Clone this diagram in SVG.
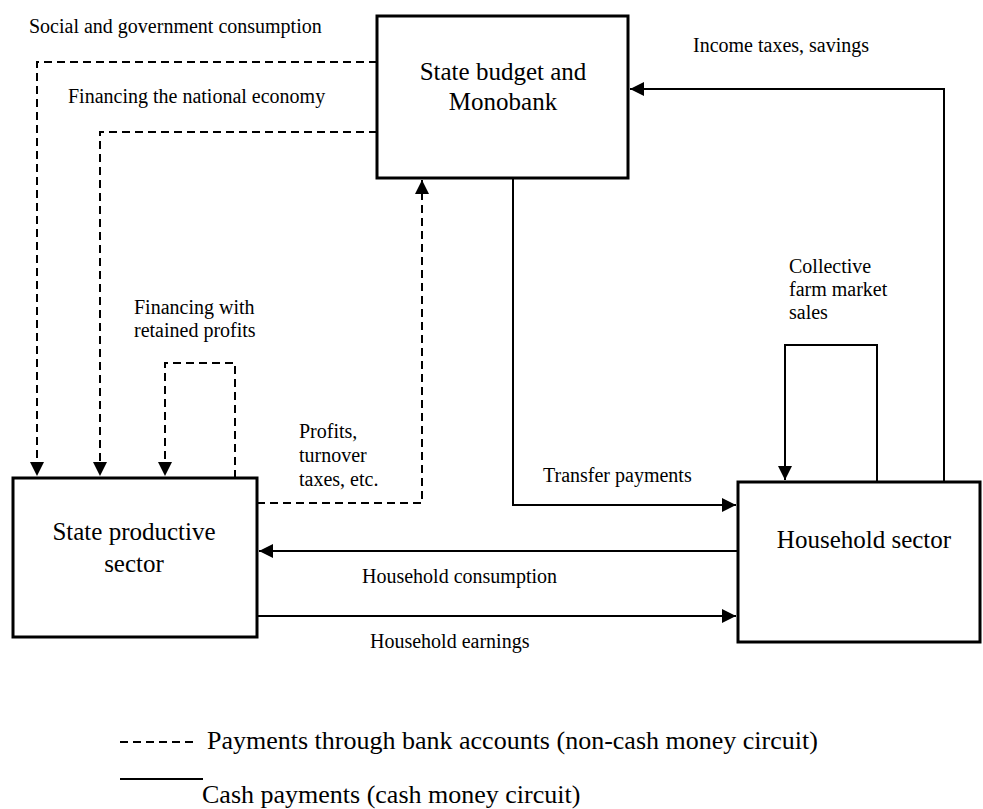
<svg xmlns="http://www.w3.org/2000/svg" width="983" height="809" viewBox="0 0 983 809">
<style>
.box{fill:#fff;stroke:#000;stroke-width:3}
.c{fill:none;stroke:#000;stroke-width:2}
.d{stroke-dasharray:8 5}
.lbl{font-family:"Liberation Serif","Times New Roman",serif;font-size:20px;fill:#000}
.node{font-family:"Liberation Serif","Times New Roman",serif;font-size:25px;fill:#000;text-anchor:middle}
.leg{font-family:"Liberation Serif","Times New Roman",serif;font-size:26px;fill:#000}
</style>
<defs>
<marker id="ah" markerUnits="userSpaceOnUse" markerWidth="14" markerHeight="14" viewBox="0 0 14 14" refX="14" refY="7" orient="auto">
<path d="M0,0 L14,7 L0,14 Z" fill="#000"/>
</marker>
</defs>
<rect width="983" height="809" fill="#fff"/>
<g id="connectors">
<path class="c d" d="M377,62 H37 V476" marker-end="url(#ah)"/>
<path class="c d" d="M377,132 H100 V476" marker-end="url(#ah)"/>
<path class="c d" d="M235,478 V363 H165 V476" marker-end="url(#ah)"/>
<path class="c d" d="M257,503 H422 V180" marker-end="url(#ah)"/>
<path class="c" d="M944,482 V89 H630" marker-end="url(#ah)"/>
<path class="c" d="M513,178 V505 H736" marker-end="url(#ah)"/>
<path class="c" d="M877,482 V345 H785 V480" marker-end="url(#ah)"/>
<path class="c" d="M738,551 H259" marker-end="url(#ah)"/>
<path class="c" d="M257,616 H736" marker-end="url(#ah)"/>
</g>
<g id="labels">
<text class="lbl" x="29" y="33">Social and government consumption</text>
<text class="lbl" x="68" y="103">Financing the national economy</text>
<text class="lbl" x="693" y="52">Income taxes, savings</text>
<text class="lbl" x="134" y="314">Financing with</text>
<text class="lbl" x="134" y="337">retained profits</text>
<text class="lbl" x="299" y="438">Profits,</text>
<text class="lbl" x="299" y="462">turnover</text>
<text class="lbl" x="299" y="486">taxes, etc.</text>
<text class="lbl" x="543" y="482">Transfer payments</text>
<text class="lbl" x="789" y="273">Collective</text>
<text class="lbl" x="789" y="296">farm market</text>
<text class="lbl" x="789" y="319">sales</text>
<text class="lbl" x="362" y="583">Household consumption</text>
<text class="lbl" x="370" y="648">Household earnings</text>
</g>
<g id="state-budget">
<rect class="box" x="377" y="16" width="251" height="162"/>
<text class="node" x="503" y="80">State budget and</text>
<text class="node" x="503" y="110">Monobank</text>
</g>
<g id="state-productive">
<rect class="box" x="13" y="478" width="244" height="159"/>
<text class="node" x="134" y="540">State productive</text>
<text class="node" x="134" y="572">sector</text>
</g>
<g id="household">
<rect class="box" x="738" y="482" width="242" height="160"/>
<text class="node" x="864" y="548">Household sector</text>
</g>
<g id="legend">
<line class="c d" x1="120" y1="742" x2="198" y2="742"/>
<text class="leg" x="207" y="749">Payments through bank accounts (non-cash money circuit)</text>
<line class="c" x1="120" y1="779" x2="203" y2="779"/>
<text class="leg" x="202" y="803">Cash payments (cash money circuit)</text>
</g>
</svg>
